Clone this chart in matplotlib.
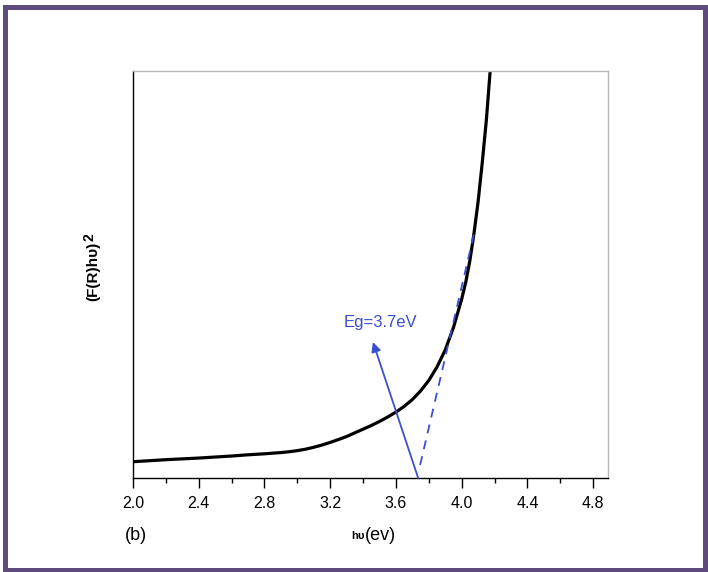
import matplotlib
matplotlib.use("Agg")
import matplotlib.pyplot as plt
from matplotlib.patches import Rectangle
from matplotlib.ticker import MultipleLocator

plt.rcParams['font.family'] = ['Liberation Sans', 'DejaVu Sans']

# absorption curve, y in arbitrary units
hv = [2.0, 2.2, 2.4, 2.6, 2.7, 2.8, 2.9, 2.95, 3.0, 3.05, 3.1, 3.15, 3.2,
      3.25, 3.3, 3.35, 3.4, 3.45, 3.5, 3.55, 3.6, 3.65, 3.7, 3.75, 3.8,
      3.85, 3.9, 3.95, 4.0, 4.025, 4.05, 4.075, 4.1, 4.125, 4.15, 4.175]
frhv2 = [0.040, 0.045, 0.049, 0.054, 0.057, 0.0595, 0.0625, 0.0645, 0.0672,
         0.0708, 0.0755, 0.081, 0.0875, 0.0945, 0.102, 0.111, 0.120, 0.129,
         0.139, 0.150, 0.162, 0.176, 0.193, 0.214, 0.240, 0.273, 0.315,
         0.370, 0.440, 0.482, 0.535, 0.602, 0.680, 0.775, 0.880, 1.010]

# tangent (Tauc extrapolation) and arrow
fit_x = [3.747, 4.08]
fit_y = [0.032, 0.609]
arrow_tail = (3.735, 0.0)
arrow_head = (3.46, 0.334)
eg_label = "Eg=3.7eV"

blue = '#3a4ed2'
purple = '#5e4b7e'

W, H = 708, 572
fig = plt.figure(figsize=(W / 100, H / 100), dpi=100)

# purple frame around the picture
fig.patches.append(Rectangle((5 / W, 1 - 569.5 / H), 699.5 / W, 563 / H,
                             transform=fig.transFigure, fill=False,
                             edgecolor=purple, linewidth=3.6))

ax = fig.add_axes([133 / W, 1 - 478 / H, 475 / W, 407 / H])
ax.plot(hv, frhv2, color='black', linewidth=2.3, solid_joinstyle='round',
        solid_capstyle='round')
ax.plot(fit_x, fit_y, color=blue, linewidth=1.3, linestyle=(0, (5, 4)))
ax.annotate('', xy=arrow_head, xytext=arrow_tail,
            arrowprops=dict(arrowstyle='-|>', color=blue, lw=1.3,
                            mutation_scale=14, shrinkA=0, shrinkB=0))
ax.text(3.284, 0.381, eg_label, color=blue, fontsize=12, va='center', ha='left')

ax.set_xlim(2.0, 4.89)
ax.set_ylim(0, 1)
ax.xaxis.set_minor_locator(MultipleLocator(0.2))
ax.set_xticks([2.0, 2.4, 2.8, 3.2, 3.6, 4.0, 4.4, 4.8])
ax.set_xticklabels(['2.0', '2.4', '2.8', '3.2', '3.6', '4.0', '4.4', '4.8'])
ax.set_yticks([])
ax.tick_params(axis='x', which='major', direction='out', length=7, width=1,
               labelsize=11.5, pad=6)
ax.tick_params(axis='x', which='minor', direction='out', length=3.5, width=1)
for s in ['left', 'bottom']:
    ax.spines[s].set_color('black')
    ax.spines[s].set_linewidth(1)
for s in ['top', 'right']:
    ax.spines[s].set_color('#b8b8b8')
    ax.spines[s].set_linewidth(1)

# axis labels
fig.text(365 / W, 1 - 536 / H, 'hυ', fontsize=8, fontweight='bold',
         ha='right', va='center')
fig.text(365 / W, 1 - 535 / H, '(ev)', fontsize=13, ha='left', va='center')
fig.text(136 / W, 1 - 535 / H, '(b)', fontsize=13, ha='center', va='center')
fig.text(93 / W, 1 - 271 / H, '(F(R)hυ)', fontsize=11, fontweight='bold',
         rotation=90, ha='center', va='center')
fig.text(89 / W, 1 - 237 / H, '2', fontsize=10, fontweight='bold',
         rotation=90, ha='center', va='center')

fig.savefig('out.png', dpi=100)
